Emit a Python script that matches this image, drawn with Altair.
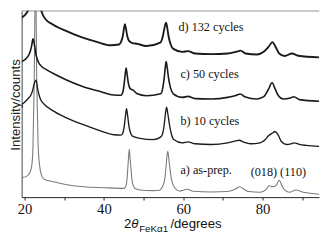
import altair as alt
import pandas as pd

# ---- data (2theta in degrees, intensity in arbitrary counts) ----
tt_a = [19.3, 20.5, 21.3, 21.8, 22.1, 22.4, 22.75, 23.1, 23.4, 23.8, 24.3, 25.0, 27.0, 30.0,
        35.0, 40.0, 45.0, 45.5, 45.8, 46.0, 46.2, 46.4, 46.6, 46.85, 47.1, 47.5, 48.0, 49.1,
        52.4, 54.0, 54.5, 55.0, 55.4, 55.7, 55.9, 56.1, 56.3, 56.6, 57.0, 57.5, 58.2, 59.0,
        61.0, 62.5, 67.0, 71.2, 73.2, 74.2, 75.3, 76.5, 79.4, 81.0, 81.6, 82.7, 83.5, 84.2,
        85.0, 85.7, 86.8, 88.4, 90.0, 92.0, 94.3]
int_a = [20, 21.3, 25, 32, 50, 110, 230, 110, 55, 32, 22, 18, 16, 13.3,
         10.7, 9.7, 9, 11, 17, 28, 40, 49, 40, 28, 17, 11, 8.5, 7.3,
         6.7, 7, 9, 13, 20, 33, 42, 47, 42, 31, 19, 12, 8, 6.3,
         8, 6, 5.3, 5.7, 8.3, 10.7, 8, 5.7, 5, 8.3, 11.7, 10.7, 12.3, 17.3,
         10.7, 7, 5, 7.3, 5.3, 4, 3]

tt_b = [19.3, 20.0, 20.8, 21.5, 22.0, 22.4, 22.9, 23.3, 23.7, 24.1, 25.0, 27.0, 30.0, 34.3,
        38.4, 42.5, 44.3, 44.8, 45.1, 45.4, 45.7, 46.0, 46.3, 46.7, 47.2, 49.1, 52.4, 54.3,
        54.8, 55.2, 55.5, 55.8, 56.1, 56.5, 57.0, 57.6, 59.7, 61.2, 63.0, 67.1, 71.2, 73.3,
        74.1, 75.3, 77.0, 79.4, 80.7, 81.5, 82.5, 83.1, 83.9, 84.7, 86.0, 87.2, 88.0, 89.3,
        91.0, 94.3]
int_b = [95, 97.3, 100.7, 104, 109, 115.7, 120, 110.7, 104, 99.7, 95, 89, 82.3, 75,
         69, 64, 63.5, 66, 72, 82, 90.7, 83, 73, 66, 62.5, 60.3, 59, 61.5,
         65, 74, 85, 92.3, 86, 75, 65, 59, 55.7, 56.7, 54.7, 54, 55.7, 57.7,
         58.3, 56.3, 54.7, 55.7, 59, 63, 65.7, 67.3, 64, 57.3, 54, 54.7, 55.7, 54,
         53, 52]

tt_c = [19.3, 20.0, 20.8, 21.4, 21.8, 22.1, 22.5, 22.9, 23.5, 24.3, 25.5, 27.0, 30.3, 34.3,
        38.4, 42.5, 44.3, 44.8, 45.1, 45.4, 45.6, 45.85, 46.2, 46.7, 47.4, 48.3, 50.7, 54.3,
        54.8, 55.2, 55.5, 55.7, 55.95, 56.3, 56.8, 57.5, 59.8, 61.2, 63.0, 67.1, 71.2, 73.3,
        74.4, 75.5, 78.6, 80.3, 81.5, 82.4, 83.2, 84.0, 85.2, 87.0, 87.9, 89.3, 94.3]
int_c = [139, 140.7, 144, 149, 155.7, 162.3, 155.7, 145.7, 138.3, 134, 130.7, 127.3, 120.7, 114,
         109, 104.7, 104.5, 108, 116, 127, 132.3, 126, 116, 111, 109.7, 106.3, 104, 106,
         111, 122, 134, 139, 133, 122, 112, 106, 102.3, 103.3, 101, 100.7, 102.3, 104.3,
         105.7, 103, 100.7, 103, 110.7, 117.3, 110.7, 104, 100.7, 101.7, 103, 100, 98.3]

tt_d = [19.3, 20.0, 20.8, 21.3, 21.8, 22.8, 23.6, 24.0, 24.4, 25.3, 27.0, 30.3, 34.3, 38.4,
        41.7, 43.8, 44.4, 44.8, 45.1, 45.3, 45.55, 45.9, 46.4, 47.2, 48.3, 50.7, 54.2, 54.8,
        55.2, 55.5, 55.7, 55.95, 56.3, 56.8, 57.5, 59.8, 61.2, 63.0, 67.1, 71.2, 73.3, 74.5,
        75.7, 78.6, 80.3, 81.5, 82.5, 83.3, 84.2, 85.6, 87.4, 89.0, 94.3]
int_d = [184, 186.3, 190.7, 195.7, 215.7, 265, 215.7, 195.7, 189, 182.3, 177.3, 170.7, 164, 159,
         155.7, 156.5, 160, 166, 174, 177.3, 173, 165, 160, 158, 157.3, 155, 158.5, 164,
         172, 177.5, 179, 174, 165, 157, 152, 149, 149.7, 147.3, 146.7, 147.3, 149, 150.3,
         147.3, 146.3, 149, 154, 159, 154, 147.3, 144.7, 147.3, 145, 143.3]

pattern_names = ["a) as-prep.", "b) 10 cycles", "c) 50 cycles", "d) 132 cycles"]

label_texts = ["d) 132 cycles", "c) 50 cycles", "b) 10 cycles", "a) as-prep.", "(018) (110)"]
label_x = [58.8, 59.3, 59.3, 59.3, 77.0]
label_y = [174, 126, 78, 28, 26]

frames = []
for name, xs, ys in zip(pattern_names, [tt_a, tt_b, tt_c, tt_d], [int_a, int_b, int_c, int_d]):
    frames.append(pd.DataFrame({"two_theta": xs, "counts": ys, "pattern": name}))
df = pd.concat(frames, ignore_index=True)
labels_df = pd.DataFrame({"text": label_texts, "x": label_x, "y": label_y})

x_scale = alt.Scale(domain=[19.26, 94.26], nice=False, zero=False)
y_scale = alt.Scale(domain=[0, 191], nice=False, zero=False)

lines = alt.Chart(df).mark_line(clip=True, interpolate="monotone").encode(
    x=alt.X("two_theta:Q", scale=x_scale,
            axis=alt.Axis(values=[20, 30, 40, 50, 60, 70, 80, 90],
                          labelExpr="datum.value % 20 == 0 ? datum.label : ''",
                          title=None, grid=False, tickSize=3, labelPadding=2,
                          labelFont="Times New Roman", labelFontSize=15,
                          labelColor="#111", domainColor="#222", tickColor="#222")),
    y=alt.Y("counts:Q", scale=y_scale,
            axis=alt.Axis(title="Intensity/counts", labels=False, ticks=False, grid=False,
                          domainColor="#444", titleFont="Liberation Sans",
                          titleFontSize=13.5, titleFontWeight="normal", titleColor="#222",
                          titleX=-6, titleY=96, titleAngle=270, titleAlign="center",
                          titleBaseline="middle")),
    detail="pattern:N",
    color=alt.Color("pattern:N", legend=None,
                    scale=alt.Scale(domain=pattern_names,
                                    range=["#7a7a7a", "#1a1a1a", "#1a1a1a", "#1a1a1a"])),
    strokeWidth=alt.StrokeWidth("pattern:N", legend=None,
                                scale=alt.Scale(domain=pattern_names, range=[1.1, 1.9, 1.9, 1.9])),
)

texts = alt.Chart(labels_df).mark_text(
    align="left", baseline="middle", font="Liberation Serif", fontSize=12.5, color="#111"
).encode(x=alt.X("x:Q", scale=x_scale), y=alt.Y("y:Q", scale=y_scale), text="text:N")

top_rule = alt.Chart(labels_df).mark_rule(color="#c8c8c8", strokeWidth=1).encode(
    y=alt.datum(191)
)

one = pd.DataFrame({"k": [0]})
t1 = alt.Chart(one).mark_text(align="left", baseline="alphabetic", font="Liberation Sans",
                              fontSize=13.5, color="#111").encode(
    x=alt.value(105), y=alt.value(223), text=alt.value("2"))
t2 = alt.Chart(one).mark_text(align="left", baseline="alphabetic", font="Liberation Sans",
                              fontSize=13.5, fontStyle="italic", color="#111").encode(
    x=alt.value(112.5), y=alt.value(223), text=alt.value("θ"))
t3 = alt.Chart(one).mark_text(align="left", baseline="alphabetic", font="Liberation Sans",
                              fontSize=10, color="#111").encode(
    x=alt.value(120.5), y=alt.value(226.5), text=alt.value("FeKα1"))
t4 = alt.Chart(one).mark_text(align="left", baseline="alphabetic", font="Liberation Sans",
                              fontSize=13.5, color="#111").encode(
    x=alt.value(152.5), y=alt.value(223), text=alt.value("/degrees"))

chart = alt.layer(top_rule, lines, texts, t1, t2, t3, t4).properties(
    width=305, height=191,
    background="white",
    autosize=alt.AutoSizeParams(type="none"),
    padding={"left": 14, "top": 0, "right": 4, "bottom": 40},
).configure_view(stroke=None).configure_axisX(
    labelFont="Times New Roman", labelFontSize=15
)

chart.save("out.html", embed_options={"renderer": "svg", "actions": False})
